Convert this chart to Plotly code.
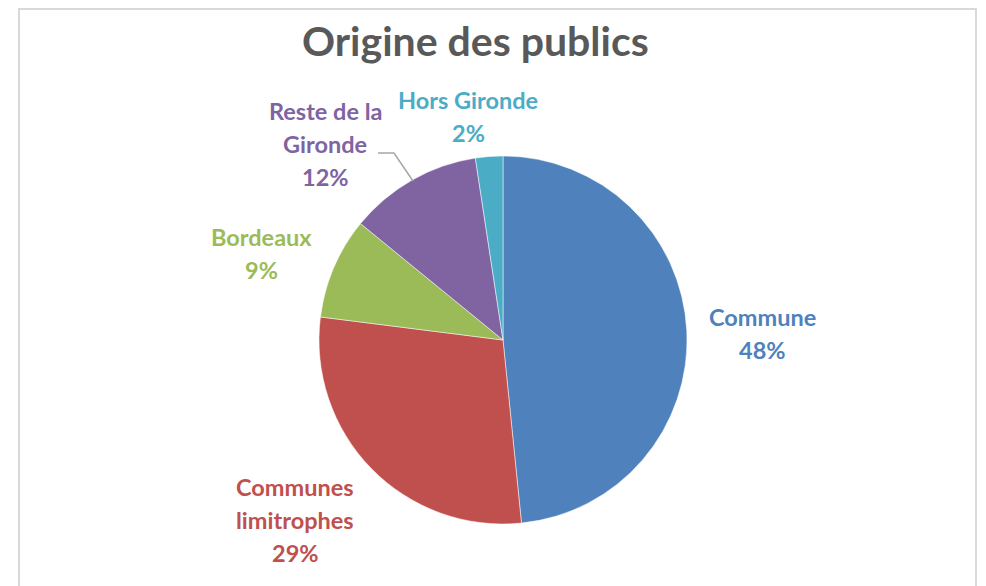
import plotly.graph_objects as go

categories = ["Commune", "Communes limitrophes", "Bordeaux", "Reste de la Gironde", "Hors Gironde"]
label_lines = [["Commune"], ["Communes", "limitrophes"], ["Bordeaux"], ["Reste de la", "Gironde"], ["Hors Gironde"]]
values = [48.4, 28.6, 8.9, 11.7, 2.4]
colors = ["#4F81BD", "#C0504D", "#9BBB59", "#8064A2", "#4BACC6"]
title_text = "Origine des publics"

W, H = 986, 586
OFF = 8  # page body margin
def px(x):
    return (x - OFF) / W
def py(y):
    return 1 - (y - OFF) / H

# label centres of first line (pixels, screen coords), line spacing
label_pos = [(762, 317), (295, 487), (261, 237), (325, 111), (468, 100)]
LS = 33

fig = go.Figure()
fig.add_trace(go.Pie(
    labels=categories, values=values, sort=False, direction="clockwise", rotation=0,
    marker=dict(colors=colors, line=dict(color="white", width=0.5)),
    textinfo="none", hoverinfo="label+percent", showlegend=False,
    domain=dict(x=[px(319), px(687)], y=[py(524), py(156)]),
))

total = sum(values)
annotations = []
for lines, v, c, (lx, ly) in zip(label_lines, values, colors, label_pos):
    all_lines = lines + [f"{round(100 * v / total)}%"]
    for i, t in enumerate(all_lines):
        annotations.append(dict(
            x=px(lx), y=py(ly + i * LS), xref="paper", yref="paper", text=t, showarrow=False,
            font=dict(family="Lato", size=23.5, color=c, weight="bold"), align="center",
            xanchor="center", yanchor="middle",
        ))
annotations.append(dict(
    x=px(475), y=py(40), xref="paper", yref="paper", text=title_text, showarrow=False,
    font=dict(family="Lato", size=41, color="#595959", weight="bold"),
    xanchor="center", yanchor="middle",
))

shapes = [
    dict(type="rect", xref="paper", yref="paper", x0=px(19), x1=px(976), y0=-0.05, y1=py(9),
         line=dict(color="#D9D9D9", width=2), fillcolor="rgba(0,0,0,0)"),
    dict(type="path", xref="paper", yref="paper",
         path=f"M {px(378)},{py(153)} L {px(394)},{py(153)} L {px(413)},{py(181)}",
         line=dict(color="#A6A6A6", width=1.5)),
]

fig.update_layout(
    width=W, height=H, margin=dict(l=0, r=0, t=0, b=0),
    paper_bgcolor="white", plot_bgcolor="white",
    annotations=annotations, shapes=shapes,
)
fig.write_html("out.html")
